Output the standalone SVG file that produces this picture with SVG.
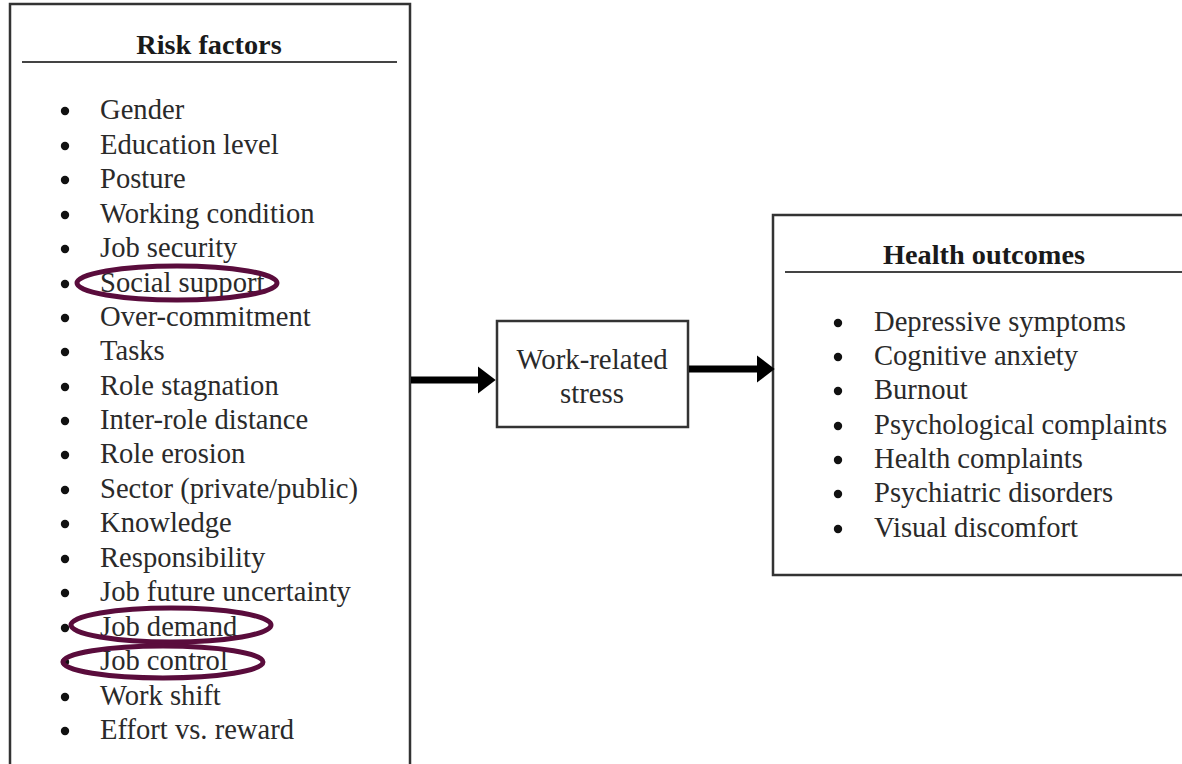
<svg xmlns="http://www.w3.org/2000/svg" width="1182" height="764" viewBox="0 0 1182 764">
<style>
.box{fill:#fff;stroke:#333;stroke-width:2.5}
.hd{font-family:"Liberation Serif",serif;font-weight:bold;font-size:28.3px;fill:#1a1a1a;text-anchor:middle}
.it{font-family:"Liberation Serif",serif;font-size:28.6px;fill:#2a2a2a}
.mid{font-family:"Liberation Serif",serif;font-size:28.8px;fill:#2a2a2a;text-anchor:middle}
.rule{stroke:#444;stroke-width:2}
.ell{fill:none;stroke:#5a0c3c;stroke-width:5}
.bul{fill:#111}
.conn{stroke:#000;stroke-width:7;fill:none}
</style>
<defs>
<marker id="ah" markerWidth="4" markerHeight="4" refX="1.5" refY="2" orient="auto" markerUnits="strokeWidth">
<path d="M0,0 L2.6,2 L0,4 Z" fill="#000"/>
</marker>
</defs>
<rect width="1182" height="764" fill="#fff"/>
<g id="risk-factors">
<rect class="box" x="10" y="4" width="400" height="780"/>
<text class="hd" x="209" y="54">Risk factors</text>
<line class="rule" x1="22" y1="62" x2="397" y2="62"/>
<g class="bul">
<circle cx="65" cy="111" r="4.2"/><circle cx="65" cy="146" r="4.2"/><circle cx="65" cy="180" r="4.2"/><circle cx="65" cy="215" r="4.2"/><circle cx="65" cy="249" r="4.2"/><circle cx="65" cy="284" r="4.2"/><circle cx="65" cy="318" r="4.2"/><circle cx="65" cy="352" r="4.2"/><circle cx="65" cy="387" r="4.2"/><circle cx="65" cy="421" r="4.2"/><circle cx="65" cy="455" r="4.2"/><circle cx="65" cy="490" r="4.2"/><circle cx="65" cy="524" r="4.2"/><circle cx="65" cy="559" r="4.2"/><circle cx="65" cy="593" r="4.2"/><circle cx="65" cy="628" r="4.2"/><circle cx="65" cy="662" r="4.2"/><circle cx="65" cy="697" r="4.2"/><circle cx="65" cy="731" r="4.2"/>
</g>
<text class="it" x="100" y="119">Gender</text>
<text class="it" x="100" y="154">Education level</text>
<text class="it" x="100" y="188">Posture</text>
<text class="it" x="100" y="223">Working condition</text>
<text class="it" x="100" y="257">Job security</text>
<text class="it" x="100" y="292">Social support</text>
<text class="it" x="100" y="326">Over-commitment</text>
<text class="it" x="100" y="360">Tasks</text>
<text class="it" x="100" y="395">Role stagnation</text>
<text class="it" x="100" y="429">Inter-role distance</text>
<text class="it" x="100" y="463">Role erosion</text>
<text class="it" x="100" y="498">Sector (private/public)</text>
<text class="it" x="100" y="532">Knowledge</text>
<text class="it" x="100" y="567">Responsibility</text>
<text class="it" x="100" y="601">Job future uncertainty</text>
<text class="it" x="100" y="636">Job demand</text>
<text class="it" x="100" y="670">Job control</text>
<text class="it" x="100" y="705">Work shift</text>
<text class="it" x="100" y="739">Effort vs. reward</text>
<ellipse class="ell" cx="177" cy="283" rx="100" ry="17"/>
<ellipse class="ell" cx="171" cy="625" rx="100" ry="17"/>
<ellipse class="ell" cx="163" cy="662" rx="100" ry="16"/>
</g>
<g id="work-related-stress">
<rect class="box" x="497" y="321" width="191" height="106"/>
<text class="mid" x="592" y="369">Work-related</text>
<text class="mid" x="592" y="403">stress</text>
</g>
<g id="health-outcomes">
<rect class="box" x="773" y="215" width="420" height="360"/>
<text class="hd" x="984" y="264">Health outcomes</text>
<line class="rule" x1="785" y1="272" x2="1182" y2="272"/>
<g class="bul">
<circle cx="838" cy="323" r="4.2"/><circle cx="838" cy="357" r="4.2"/><circle cx="838" cy="391" r="4.2"/><circle cx="838" cy="426" r="4.2"/><circle cx="838" cy="460" r="4.2"/><circle cx="838" cy="494" r="4.2"/><circle cx="838" cy="529" r="4.2"/>
</g>
<text class="it" x="874" y="331">Depressive symptoms</text>
<text class="it" x="874" y="365">Cognitive anxiety</text>
<text class="it" x="874" y="399">Burnout</text>
<text class="it" x="874" y="434">Psychological complaints</text>
<text class="it" x="874" y="468">Health complaints</text>
<text class="it" x="874" y="502">Psychiatric disorders</text>
<text class="it" x="874" y="537">Visual discomfort</text>
</g>
<g id="connectors">
<line class="conn" x1="411" y1="380" x2="488" y2="380" marker-end="url(#ah)"/>
<line class="conn" x1="689" y1="369" x2="767" y2="369" marker-end="url(#ah)"/>
</g>
</svg>
